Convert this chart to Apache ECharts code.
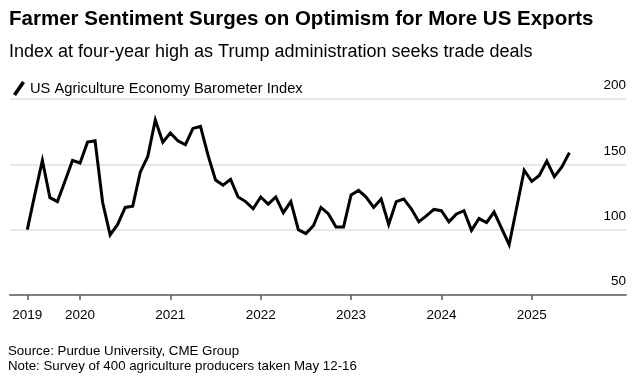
<!DOCTYPE html>
<html>
<head>
<meta charset="utf-8">
<script src="https://cdn.jsdelivr.net/npm/echarts@6/dist/echarts.min.js"></script>
<style>
html,body{margin:0;padding:0;background:#fff;}
#chart{width:641px;height:385px;}
</style>
</head>
<body>
<div id="chart"></div>
<script>
// Monthly readings, May 2019 .. May 2025
var startYear = 2019, startMonth = 5;
var values = [
  100, 127, 153, 124.5, 121.5, 137, 153, 151, 167, 168, 121, 96,
  104, 117, 118, 144, 156, 184, 167, 174, 168, 165, 177.5, 179,
  157, 138, 134, 138.5, 125, 121.5, 116, 125, 119.5, 125, 113, 121.5,
  100, 97, 103, 117, 112, 102, 102, 126.5, 130, 125, 117, 123.5,
  104, 121.5, 123.5, 116, 106, 110.5, 115.5, 114.5, 106, 112, 114.5, 99.5,
  108.5, 105.5, 113.5, 101, 88.5, 117, 145.5, 137, 141.5, 152.5, 140.5, 148,
  159
];
var tickLabels = ['2019', '2020', '2021', '2022', '2023', '2024', '2025'];
var tickIndex = [0, 7, 19, 31, 43, 55, 67];
var yTicks = [50, 100, 150, 200];

var months = values.map(function (v, i) {
  var m = startMonth - 1 + i;
  return (startYear + Math.floor(m / 12)) + '-' + String(m % 12 + 1).padStart(2, '0');
});
var seriesData = values.map(function (v, i) { return [i, v]; });

var chart = echarts.init(document.getElementById('chart'), null, {renderer: 'canvas'});
var font = 'Liberation Sans, Arial, sans-serif';
chart.setOption({
  animation: false,
  backgroundColor: '#fff',
  textStyle: {fontFamily: font},
  grid: {left: 10, right: 15, top: 99, bottom: 90, containLabel: false},
  graphic: [
    {type: 'text', left: 9, top: 9, style: {text: 'Farmer Sentiment Surges on Optimism for More US Exports', font: 'bold 20.5px ' + font, fill: '#000'}},
    {type: 'text', left: 9, top: 43, style: {text: 'Index at four-year high as Trump administration seeks trade deals', font: '18px ' + font, fill: '#000'}},
    {type: 'text', left: 8, top: 345, style: {text: 'Source: Purdue University, CME Group', font: '13.3px ' + font, fill: '#000'}},
    {type: 'text', left: 8, top: 359.5, style: {text: 'Note: Survey of 400 agriculture producers taken May 12-16', font: '13.3px ' + font, fill: '#000'}}
  ],
  legend: {
    left: 8, top: 76, itemWidth: 12, itemHeight: 15, itemGap: 6,
    icon: 'path://M0,13 L9,0 L12,2 L3,15 Z',
    textStyle: {fontSize: 14.7, color: '#000', fontFamily: font},
    data: [{name: 'US Agriculture Economy Barometer Index', itemStyle: {color: '#000'}}]
  },
  xAxis: {
    type: 'value',
    min: -2.3, max: 79.52,
    axisLine: {show: true, lineStyle: {color: '#808080', width: 2}},
    axisTick: {show: true, length: 5, lineStyle: {color: '#555', width: 1.5}, customValues: tickIndex},
    axisLabel: {
      customValues: tickIndex, margin: 13, fontSize: 13.5, color: '#000', fontFamily: font,
      formatter: function (v) { var k = tickIndex.indexOf(Math.round(v)); return k >= 0 ? tickLabels[k] : ''; }
    },
    splitLine: {show: false}
  },
  yAxis: {
    type: 'value', position: 'right', min: 50, max: 200, interval: 50,
    axisLine: {show: false}, axisTick: {show: false},
    axisLabel: {inside: true, margin: 0, fontSize: 13.5, color: '#000', verticalAlign: 'bottom', lineHeight: 27, fontFamily: font,
      formatter: function (v) { return yTicks.indexOf(v) >= 0 ? String(v) : ''; }},
    splitLine: {show: true, lineStyle: {color: '#e0e0e0', width: 1.5}}
  },
  series: [{
    name: 'US Agriculture Economy Barometer Index',
    type: 'line', data: seriesData, showSymbol: false, symbol: 'none',
    lineStyle: {color: '#000', width: 3, join: 'miter'},
    itemStyle: {color: '#000'}
  }]
});
</script>
</body>
</html>
